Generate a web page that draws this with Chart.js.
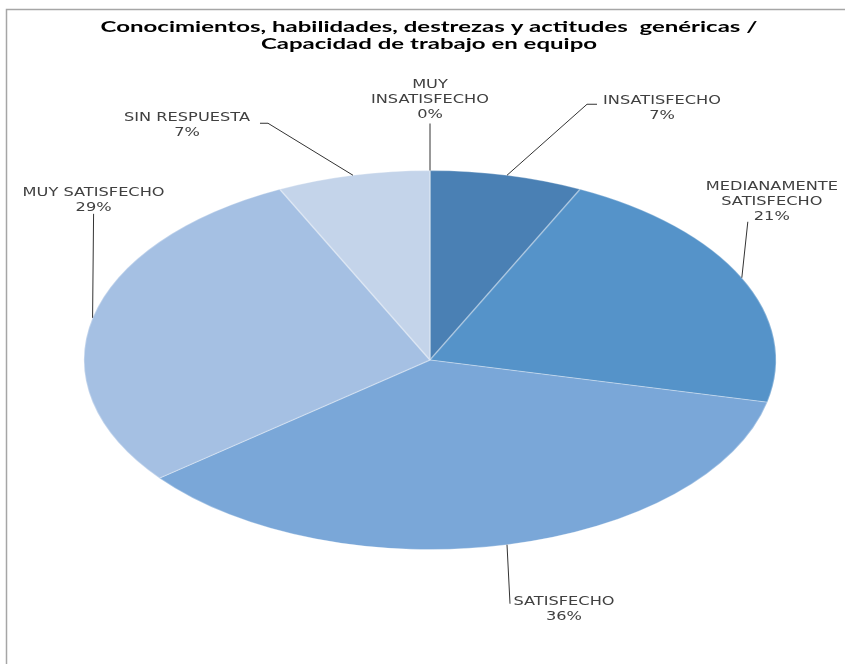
<!DOCTYPE html>
<html>
<head>
<meta charset="utf-8">
<script src="https://cdn.jsdelivr.net/npm/chart.js@4.4.1/dist/chart.umd.min.js"></script>
<style>
  body { margin: 0; background: #fff; }
  #wrap { width: 845px; height: 664px; }
</style>
</head>
<body>
<div id="wrap"><canvas id="pieChart" width="845" height="664"></canvas></div>
<script>
// datos (14 respuestas)
const categories = ["MUY\nINSATISFECHO", "INSATISFECHO", "MEDIANAMENTE\nSATISFECHO", "SATISFECHO", "MUY SATISFECHO", "SIN RESPUESTA"];
const counts = [0, 1, 3, 5, 4, 1];
const titleLines = ["Conocimientos, habilidades, destrezas y actitudes  genéricas /", "Capacidad de trabajo en equipo"];

const colors = ["#3f6f9f", "#4a80b4", "#5593c9", "#7aa7d8", "#a5c0e3", "#c4d4ea"];
const STRETCH = 347 / 190;   // pie drawn as ellipse
const TEXT_SX = 1.35;        // label text is wide in the original
const TITLE_SX = 1.6;

// label placement relative to the slice edge point: leader end, tail, text center
const labelPlace = [
    { lx: 0, ly: -47, tail: 0, tx: 0, ty: -86 },
    { lx: 80, ly: -71, tail: 10, tx: 155, ty: -74 },
    { lx: 6, ly: -56, tail: 0, tx: 30, ty: -91 },
    { lx: 3, ly: 59, tail: 0, tx: 57, ty: 57 },
    { lx: 1, ly: -104, tail: 0, tx: 1, ty: -125 },
    { lx: -85, ly: -52, tail: -8, tx: -166, ty: -57 },
];

function wideText(ctx, text, x, y, sx) {
    ctx.save();
    ctx.translate(x, y);
    ctx.scale(sx, 1);
    ctx.fillText(text, 0, 0);
    ctx.restore();
}

const frame = {
    id: "frame",
    beforeDraw(chart) {
        const ctx = chart.ctx;
        ctx.save();
        ctx.fillStyle = "#fff";
        ctx.fillRect(0, 0, chart.width, chart.height);
        ctx.strokeStyle = "#a6a6a6";
        ctx.lineWidth = 1.5;
        ctx.strokeRect(6.5, 9.5, chart.width + 20, chart.height + 20);
        ctx.restore();
    },
};

const ellipse = {
    id: "ellipse",
    beforeDatasetsDraw(chart) {
        const arc = chart.getDatasetMeta(0).data[0];
        const ctx = chart.ctx;
        ctx.save();
        ctx.translate(arc.x, arc.y);
        ctx.scale(STRETCH, 1);
        ctx.translate(-arc.x, -arc.y);
    },
    afterDatasetsDraw(chart) {
        chart.ctx.restore();
    },
};

const labels = {
    id: "labels",
    afterDraw(chart) {
        const ctx = chart.ctx;
        const total = counts.reduce((a, b) => a + b, 0);

        ctx.save();
        ctx.fillStyle = "#000";
        ctx.font = "bold 15px Lato";
        ctx.textAlign = "center";
        ctx.textBaseline = "middle";
        wideText(ctx, titleLines[0], 429, 27, TITLE_SX);
        wideText(ctx, titleLines[1], 429, 44, TITLE_SX);

        const meta = chart.getDatasetMeta(0);
        meta.data.forEach((arc, i) => {
            const mid = (arc.startAngle + arc.endAngle) / 2;
            const ex = arc.x + Math.cos(mid) * arc.outerRadius * STRETCH;
            const ey = arc.y + Math.sin(mid) * arc.outerRadius;
            const p = labelPlace[i];

            ctx.strokeStyle = "#333";
            ctx.lineWidth = 1;
            ctx.beginPath();
            ctx.moveTo(ex, ey);
            ctx.lineTo(ex + p.lx, ey + p.ly);
            if (p.tail) ctx.lineTo(ex + p.lx + p.tail, ey + p.ly);
            ctx.stroke();

            const lines = categories[i].split("\n");
            lines.push(Math.round(counts[i] / total * 100) + "%");
            ctx.fillStyle = "#404040";
            ctx.font = "12px 'DejaVu Sans'";
            lines.forEach((t, k) => {
                wideText(ctx, t, ex + p.tx, ey + p.ty + k * 15, TEXT_SX);
            });
        });
        ctx.restore();
    },
};

new Chart(document.getElementById("pieChart"), {
    type: "pie",
    data: {
        labels: categories,
        datasets: [
            {
                data: counts,
                backgroundColor: colors,
                borderColor: "rgba(255,255,255,0.3)",
                borderWidth: 1,
                hoverOffset: 0,
            },
        ],
    },
    options: {
        responsive: false,
        animation: false,
        layout: { padding: { top: 170, bottom: 114, left: 240, right: 225 } },
        plugins: {
            legend: { display: false },
            title: { display: false },
            tooltip: { enabled: false },
        },
    },
    plugins: [frame, ellipse, labels],
});
</script>
</body>
</html>
